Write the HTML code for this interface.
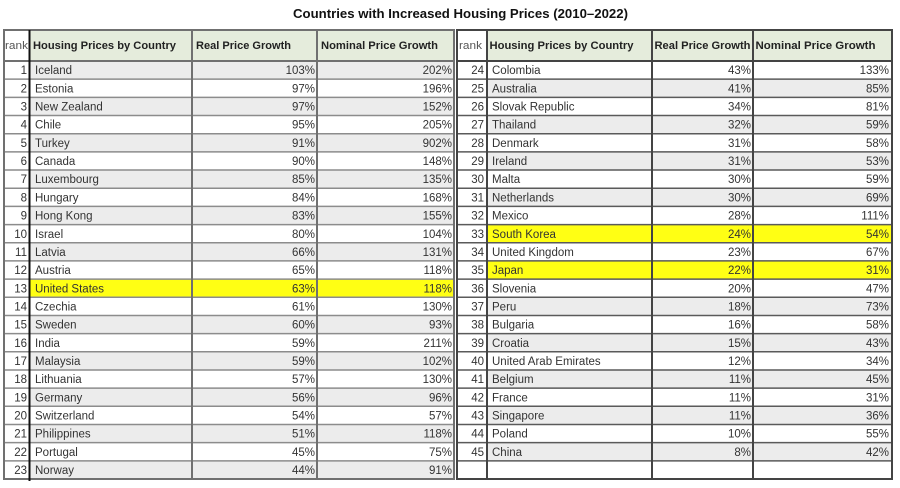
<!DOCTYPE html>
<html>
<head>
<meta charset="utf-8">
<style>
html,body{margin:0;padding:0;background:#fff;}
body{width:900px;height:488px;overflow:hidden;}
svg{display:block;}
text{font-family:"Liberation Sans",Arial,sans-serif;}
.t{font-size:11.5px;fill:#333;}
.h{font-size:11px;font-weight:bold;fill:#222;}
.r{font-size:11px;fill:#555;}
.e{text-anchor:end;}
</style>
</head>
<body>
<svg width="900" height="488" viewBox="0 0 900 488" xmlns="http://www.w3.org/2000/svg">
<rect width="900" height="488" fill="#fff"/>
<text x="293" y="18" font-size="13" font-weight="bold" fill="#111" textLength="335" lengthAdjust="spacingAndGlyphs">Countries with Increased Housing Prices (2010–2022)</text>

<!-- header backgrounds -->
<rect x="30" y="30" width="424" height="31" fill="#e5ecdc"/>
<rect x="487" y="30" width="405" height="31" fill="#e5ecdc"/>

<!-- LEFT TABLE rows -->
<g id="L">
<g transform="translate(0,61)"><rect x="30" y="0" width="424" height="18.17" fill="#ececec"/><text class="t e" x="27" y="13.2">1</text><text class="t" x="35" y="13.2">Iceland</text><text class="t e" x="315" y="13.2">103%</text><text class="t e" x="452" y="13.2">202%</text></g>
<g transform="translate(0,79.17)"><text class="t e" x="27" y="13.2">2</text><text class="t" x="35" y="13.2">Estonia</text><text class="t e" x="315" y="13.2">97%</text><text class="t e" x="452" y="13.2">196%</text></g>
<g transform="translate(0,97.35)"><rect x="30" y="0" width="424" height="18.17" fill="#ececec"/><text class="t e" x="27" y="13.2">3</text><text class="t" x="35" y="13.2">New Zealand</text><text class="t e" x="315" y="13.2">97%</text><text class="t e" x="452" y="13.2">152%</text></g>
<g transform="translate(0,115.52)"><text class="t e" x="27" y="13.2">4</text><text class="t" x="35" y="13.2">Chile</text><text class="t e" x="315" y="13.2">95%</text><text class="t e" x="452" y="13.2">205%</text></g>
<g transform="translate(0,133.70)"><rect x="30" y="0" width="424" height="18.17" fill="#ececec"/><text class="t e" x="27" y="13.2">5</text><text class="t" x="35" y="13.2">Turkey</text><text class="t e" x="315" y="13.2">91%</text><text class="t e" x="452" y="13.2">902%</text></g>
<g transform="translate(0,151.87)"><text class="t e" x="27" y="13.2">6</text><text class="t" x="35" y="13.2">Canada</text><text class="t e" x="315" y="13.2">90%</text><text class="t e" x="452" y="13.2">148%</text></g>
<g transform="translate(0,170.04)"><rect x="30" y="0" width="424" height="18.17" fill="#ececec"/><text class="t e" x="27" y="13.2">7</text><text class="t" x="35" y="13.2">Luxembourg</text><text class="t e" x="315" y="13.2">85%</text><text class="t e" x="452" y="13.2">135%</text></g>
<g transform="translate(0,188.22)"><text class="t e" x="27" y="13.2">8</text><text class="t" x="35" y="13.2">Hungary</text><text class="t e" x="315" y="13.2">84%</text><text class="t e" x="452" y="13.2">168%</text></g>
<g transform="translate(0,206.39)"><rect x="30" y="0" width="424" height="18.17" fill="#ececec"/><text class="t e" x="27" y="13.2">9</text><text class="t" x="35" y="13.2">Hong Kong</text><text class="t e" x="315" y="13.2">83%</text><text class="t e" x="452" y="13.2">155%</text></g>
<g transform="translate(0,224.57)"><text class="t e" x="27" y="13.2">10</text><text class="t" x="35" y="13.2">Israel</text><text class="t e" x="315" y="13.2">80%</text><text class="t e" x="452" y="13.2">104%</text></g>
<g transform="translate(0,242.74)"><rect x="30" y="0" width="424" height="18.17" fill="#ececec"/><text class="t e" x="27" y="13.2">11</text><text class="t" x="35" y="13.2">Latvia</text><text class="t e" x="315" y="13.2">66%</text><text class="t e" x="452" y="13.2">131%</text></g>
<g transform="translate(0,260.91)"><text class="t e" x="27" y="13.2">12</text><text class="t" x="35" y="13.2">Austria</text><text class="t e" x="315" y="13.2">65%</text><text class="t e" x="452" y="13.2">118%</text></g>
<g transform="translate(0,279.09)"><rect x="30" y="0" width="424" height="18.17" fill="#ffff14"/><text class="t e" x="27" y="13.2">13</text><text class="t" x="35" y="13.2">United States</text><text class="t e" x="315" y="13.2">63%</text><text class="t e" x="452" y="13.2">118%</text></g>
<g transform="translate(0,297.26)"><text class="t e" x="27" y="13.2">14</text><text class="t" x="35" y="13.2">Czechia</text><text class="t e" x="315" y="13.2">61%</text><text class="t e" x="452" y="13.2">130%</text></g>
<g transform="translate(0,315.44)"><rect x="30" y="0" width="424" height="18.17" fill="#ececec"/><text class="t e" x="27" y="13.2">15</text><text class="t" x="35" y="13.2">Sweden</text><text class="t e" x="315" y="13.2">60%</text><text class="t e" x="452" y="13.2">93%</text></g>
<g transform="translate(0,333.61)"><text class="t e" x="27" y="13.2">16</text><text class="t" x="35" y="13.2">India</text><text class="t e" x="315" y="13.2">59%</text><text class="t e" x="452" y="13.2">211%</text></g>
<g transform="translate(0,351.78)"><rect x="30" y="0" width="424" height="18.17" fill="#ececec"/><text class="t e" x="27" y="13.2">17</text><text class="t" x="35" y="13.2">Malaysia</text><text class="t e" x="315" y="13.2">59%</text><text class="t e" x="452" y="13.2">102%</text></g>
<g transform="translate(0,369.96)"><text class="t e" x="27" y="13.2">18</text><text class="t" x="35" y="13.2">Lithuania</text><text class="t e" x="315" y="13.2">57%</text><text class="t e" x="452" y="13.2">130%</text></g>
<g transform="translate(0,388.13)"><rect x="30" y="0" width="424" height="18.17" fill="#ececec"/><text class="t e" x="27" y="13.2">19</text><text class="t" x="35" y="13.2">Germany</text><text class="t e" x="315" y="13.2">56%</text><text class="t e" x="452" y="13.2">96%</text></g>
<g transform="translate(0,406.31)"><text class="t e" x="27" y="13.2">20</text><text class="t" x="35" y="13.2">Switzerland</text><text class="t e" x="315" y="13.2">54%</text><text class="t e" x="452" y="13.2">57%</text></g>
<g transform="translate(0,424.48)"><rect x="30" y="0" width="424" height="18.17" fill="#ececec"/><text class="t e" x="27" y="13.2">21</text><text class="t" x="35" y="13.2">Philippines</text><text class="t e" x="315" y="13.2">51%</text><text class="t e" x="452" y="13.2">118%</text></g>
<g transform="translate(0,442.65)"><text class="t e" x="27" y="13.2">22</text><text class="t" x="35" y="13.2">Portugal</text><text class="t e" x="315" y="13.2">45%</text><text class="t e" x="452" y="13.2">75%</text></g>
<g transform="translate(0,460.83)"><rect x="30" y="0" width="424" height="18.17" fill="#ececec"/><text class="t e" x="27" y="13.2">23</text><text class="t" x="35" y="13.2">Norway</text><text class="t e" x="315" y="13.2">44%</text><text class="t e" x="452" y="13.2">91%</text></g>
</g>

<!-- RIGHT TABLE rows -->
<g id="R">
<g transform="translate(0,61)"><text class="t e" x="484" y="13.2">24</text><text class="t" x="492" y="13.2">Colombia</text><text class="t e" x="751" y="13.2">43%</text><text class="t e" x="889" y="13.2">133%</text></g>
<g transform="translate(0,79.17)"><rect x="487" y="0" width="405" height="18.17" fill="#ececec"/><text class="t e" x="484" y="13.2">25</text><text class="t" x="492" y="13.2">Australia</text><text class="t e" x="751" y="13.2">41%</text><text class="t e" x="889" y="13.2">85%</text></g>
<g transform="translate(0,97.35)"><text class="t e" x="484" y="13.2">26</text><text class="t" x="492" y="13.2">Slovak Republic</text><text class="t e" x="751" y="13.2">34%</text><text class="t e" x="889" y="13.2">81%</text></g>
<g transform="translate(0,115.52)"><rect x="487" y="0" width="405" height="18.17" fill="#ececec"/><text class="t e" x="484" y="13.2">27</text><text class="t" x="492" y="13.2">Thailand</text><text class="t e" x="751" y="13.2">32%</text><text class="t e" x="889" y="13.2">59%</text></g>
<g transform="translate(0,133.70)"><text class="t e" x="484" y="13.2">28</text><text class="t" x="492" y="13.2">Denmark</text><text class="t e" x="751" y="13.2">31%</text><text class="t e" x="889" y="13.2">58%</text></g>
<g transform="translate(0,151.87)"><rect x="487" y="0" width="405" height="18.17" fill="#ececec"/><text class="t e" x="484" y="13.2">29</text><text class="t" x="492" y="13.2">Ireland</text><text class="t e" x="751" y="13.2">31%</text><text class="t e" x="889" y="13.2">53%</text></g>
<g transform="translate(0,170.04)"><text class="t e" x="484" y="13.2">30</text><text class="t" x="492" y="13.2">Malta</text><text class="t e" x="751" y="13.2">30%</text><text class="t e" x="889" y="13.2">59%</text></g>
<g transform="translate(0,188.22)"><rect x="487" y="0" width="405" height="18.17" fill="#ececec"/><text class="t e" x="484" y="13.2">31</text><text class="t" x="492" y="13.2">Netherlands</text><text class="t e" x="751" y="13.2">30%</text><text class="t e" x="889" y="13.2">69%</text></g>
<g transform="translate(0,206.39)"><text class="t e" x="484" y="13.2">32</text><text class="t" x="492" y="13.2">Mexico</text><text class="t e" x="751" y="13.2">28%</text><text class="t e" x="889" y="13.2">111%</text></g>
<g transform="translate(0,224.57)"><rect x="487" y="0" width="405" height="18.17" fill="#ffff14"/><text class="t e" x="484" y="13.2">33</text><text class="t" x="492" y="13.2">South Korea</text><text class="t e" x="751" y="13.2">24%</text><text class="t e" x="889" y="13.2">54%</text></g>
<g transform="translate(0,242.74)"><text class="t e" x="484" y="13.2">34</text><text class="t" x="492" y="13.2">United Kingdom</text><text class="t e" x="751" y="13.2">23%</text><text class="t e" x="889" y="13.2">67%</text></g>
<g transform="translate(0,260.91)"><rect x="487" y="0" width="405" height="18.17" fill="#ffff14"/><text class="t e" x="484" y="13.2">35</text><text class="t" x="492" y="13.2">Japan</text><text class="t e" x="751" y="13.2">22%</text><text class="t e" x="889" y="13.2">31%</text></g>
<g transform="translate(0,279.09)"><text class="t e" x="484" y="13.2">36</text><text class="t" x="492" y="13.2">Slovenia</text><text class="t e" x="751" y="13.2">20%</text><text class="t e" x="889" y="13.2">47%</text></g>
<g transform="translate(0,297.26)"><rect x="487" y="0" width="405" height="18.17" fill="#ececec"/><text class="t e" x="484" y="13.2">37</text><text class="t" x="492" y="13.2">Peru</text><text class="t e" x="751" y="13.2">18%</text><text class="t e" x="889" y="13.2">73%</text></g>
<g transform="translate(0,315.44)"><text class="t e" x="484" y="13.2">38</text><text class="t" x="492" y="13.2">Bulgaria</text><text class="t e" x="751" y="13.2">16%</text><text class="t e" x="889" y="13.2">58%</text></g>
<g transform="translate(0,333.61)"><rect x="487" y="0" width="405" height="18.17" fill="#ececec"/><text class="t e" x="484" y="13.2">39</text><text class="t" x="492" y="13.2">Croatia</text><text class="t e" x="751" y="13.2">15%</text><text class="t e" x="889" y="13.2">43%</text></g>
<g transform="translate(0,351.78)"><text class="t e" x="484" y="13.2">40</text><text class="t" x="492" y="13.2">United Arab Emirates</text><text class="t e" x="751" y="13.2">12%</text><text class="t e" x="889" y="13.2">34%</text></g>
<g transform="translate(0,369.96)"><rect x="487" y="0" width="405" height="18.17" fill="#ececec"/><text class="t e" x="484" y="13.2">41</text><text class="t" x="492" y="13.2">Belgium</text><text class="t e" x="751" y="13.2">11%</text><text class="t e" x="889" y="13.2">45%</text></g>
<g transform="translate(0,388.13)"><text class="t e" x="484" y="13.2">42</text><text class="t" x="492" y="13.2">France</text><text class="t e" x="751" y="13.2">11%</text><text class="t e" x="889" y="13.2">31%</text></g>
<g transform="translate(0,406.31)"><rect x="487" y="0" width="405" height="18.17" fill="#ececec"/><text class="t e" x="484" y="13.2">43</text><text class="t" x="492" y="13.2">Singapore</text><text class="t e" x="751" y="13.2">11%</text><text class="t e" x="889" y="13.2">36%</text></g>
<g transform="translate(0,424.48)"><text class="t e" x="484" y="13.2">44</text><text class="t" x="492" y="13.2">Poland</text><text class="t e" x="751" y="13.2">10%</text><text class="t e" x="889" y="13.2">55%</text></g>
<g transform="translate(0,442.65)"><rect x="487" y="0" width="405" height="18.17" fill="#ececec"/><text class="t e" x="484" y="13.2">45</text><text class="t" x="492" y="13.2">China</text><text class="t e" x="751" y="13.2">8%</text><text class="t e" x="889" y="13.2">42%</text></g>
</g>

<!-- headers text -->
<text class="r" x="5" y="49" textLength="23" lengthAdjust="spacingAndGlyphs">rank</text>
<text class="h" x="33" y="49" textLength="143" lengthAdjust="spacingAndGlyphs">Housing Prices by Country</text>
<text class="h" x="196" y="49" textLength="95" lengthAdjust="spacingAndGlyphs">Real Price Growth</text>
<text class="h" x="321" y="49" textLength="117" lengthAdjust="spacingAndGlyphs">Nominal Price Growth</text>
<text class="r" x="459" y="49" textLength="23" lengthAdjust="spacingAndGlyphs">rank</text>
<text class="h" x="489.5" y="49" textLength="144" lengthAdjust="spacingAndGlyphs">Housing Prices by Country</text>
<text class="h" x="654.5" y="49" textLength="96" lengthAdjust="spacingAndGlyphs">Real Price Growth</text>
<text class="h" x="755.5" y="49" textLength="120" lengthAdjust="spacingAndGlyphs">Nominal Price Growth</text>

<!-- LEFT grid lines -->
<g stroke="#8c8c8c" stroke-width="1.5" fill="none">
<line x1="4" y1="79.17" x2="454" y2="79.17"/>
<line x1="4" y1="97.35" x2="454" y2="97.35"/>
<line x1="4" y1="115.52" x2="454" y2="115.52"/>
<line x1="4" y1="133.70" x2="454" y2="133.70"/>
<line x1="4" y1="151.87" x2="454" y2="151.87"/>
<line x1="4" y1="170.04" x2="454" y2="170.04"/>
<line x1="4" y1="188.22" x2="454" y2="188.22"/>
<line x1="4" y1="206.39" x2="454" y2="206.39"/>
<line x1="4" y1="224.57" x2="454" y2="224.57"/>
<line x1="4" y1="242.74" x2="454" y2="242.74"/>
<line x1="4" y1="260.91" x2="454" y2="260.91"/>
<line x1="4" y1="279.09" x2="454" y2="279.09"/>
<line x1="4" y1="297.26" x2="454" y2="297.26"/>
<line x1="4" y1="315.44" x2="454" y2="315.44"/>
<line x1="4" y1="333.61" x2="454" y2="333.61"/>
<line x1="4" y1="351.78" x2="454" y2="351.78"/>
<line x1="4" y1="369.96" x2="454" y2="369.96"/>
<line x1="4" y1="388.13" x2="454" y2="388.13"/>
<line x1="4" y1="406.31" x2="454" y2="406.31"/>
<line x1="4" y1="424.48" x2="454" y2="424.48"/>
<line x1="4" y1="442.65" x2="454" y2="442.65"/>
<line x1="4" y1="460.83" x2="454" y2="460.83"/>
</g>
<g stroke="#707070" stroke-width="2" fill="none">
<line x1="4" y1="61" x2="454" y2="61"/>
<rect x="4" y="30" width="450" height="449"/>
<line x1="192" y1="30" x2="192" y2="479"/>
<line x1="317" y1="30" x2="317" y2="479"/>
</g>
<line x1="29.5" y1="30" x2="29.5" y2="481" stroke="#111" stroke-width="2"/>

<!-- RIGHT grid lines -->
<g stroke="#5a5a5a" stroke-width="1.5" fill="none">
<line x1="457" y1="79.17" x2="892" y2="79.17"/>
<line x1="457" y1="97.35" x2="892" y2="97.35"/>
<line x1="457" y1="115.52" x2="892" y2="115.52"/>
<line x1="457" y1="133.70" x2="892" y2="133.70"/>
<line x1="457" y1="151.87" x2="892" y2="151.87"/>
<line x1="457" y1="170.04" x2="892" y2="170.04"/>
<line x1="457" y1="188.22" x2="892" y2="188.22"/>
<line x1="457" y1="206.39" x2="892" y2="206.39"/>
<line x1="457" y1="224.57" x2="892" y2="224.57"/>
<line x1="457" y1="242.74" x2="892" y2="242.74"/>
<line x1="457" y1="260.91" x2="892" y2="260.91"/>
<line x1="457" y1="279.09" x2="892" y2="279.09"/>
<line x1="457" y1="297.26" x2="892" y2="297.26"/>
<line x1="457" y1="315.44" x2="892" y2="315.44"/>
<line x1="457" y1="333.61" x2="892" y2="333.61"/>
<line x1="457" y1="351.78" x2="892" y2="351.78"/>
<line x1="457" y1="369.96" x2="892" y2="369.96"/>
<line x1="457" y1="388.13" x2="892" y2="388.13"/>
<line x1="457" y1="406.31" x2="892" y2="406.31"/>
<line x1="457" y1="424.48" x2="892" y2="424.48"/>
<line x1="457" y1="442.65" x2="892" y2="442.65"/>
<line x1="457" y1="460.83" x2="892" y2="460.83"/>
</g>
<g stroke="#444" stroke-width="2" fill="none">
<line x1="457" y1="61" x2="892" y2="61"/>
<rect x="457" y="30" width="435" height="449"/>
<line x1="487" y1="30" x2="487" y2="479"/>
<line x1="652" y1="30" x2="652" y2="479"/>
<line x1="753" y1="30" x2="753" y2="479"/>
</g>
</svg>
</body>
</html>
